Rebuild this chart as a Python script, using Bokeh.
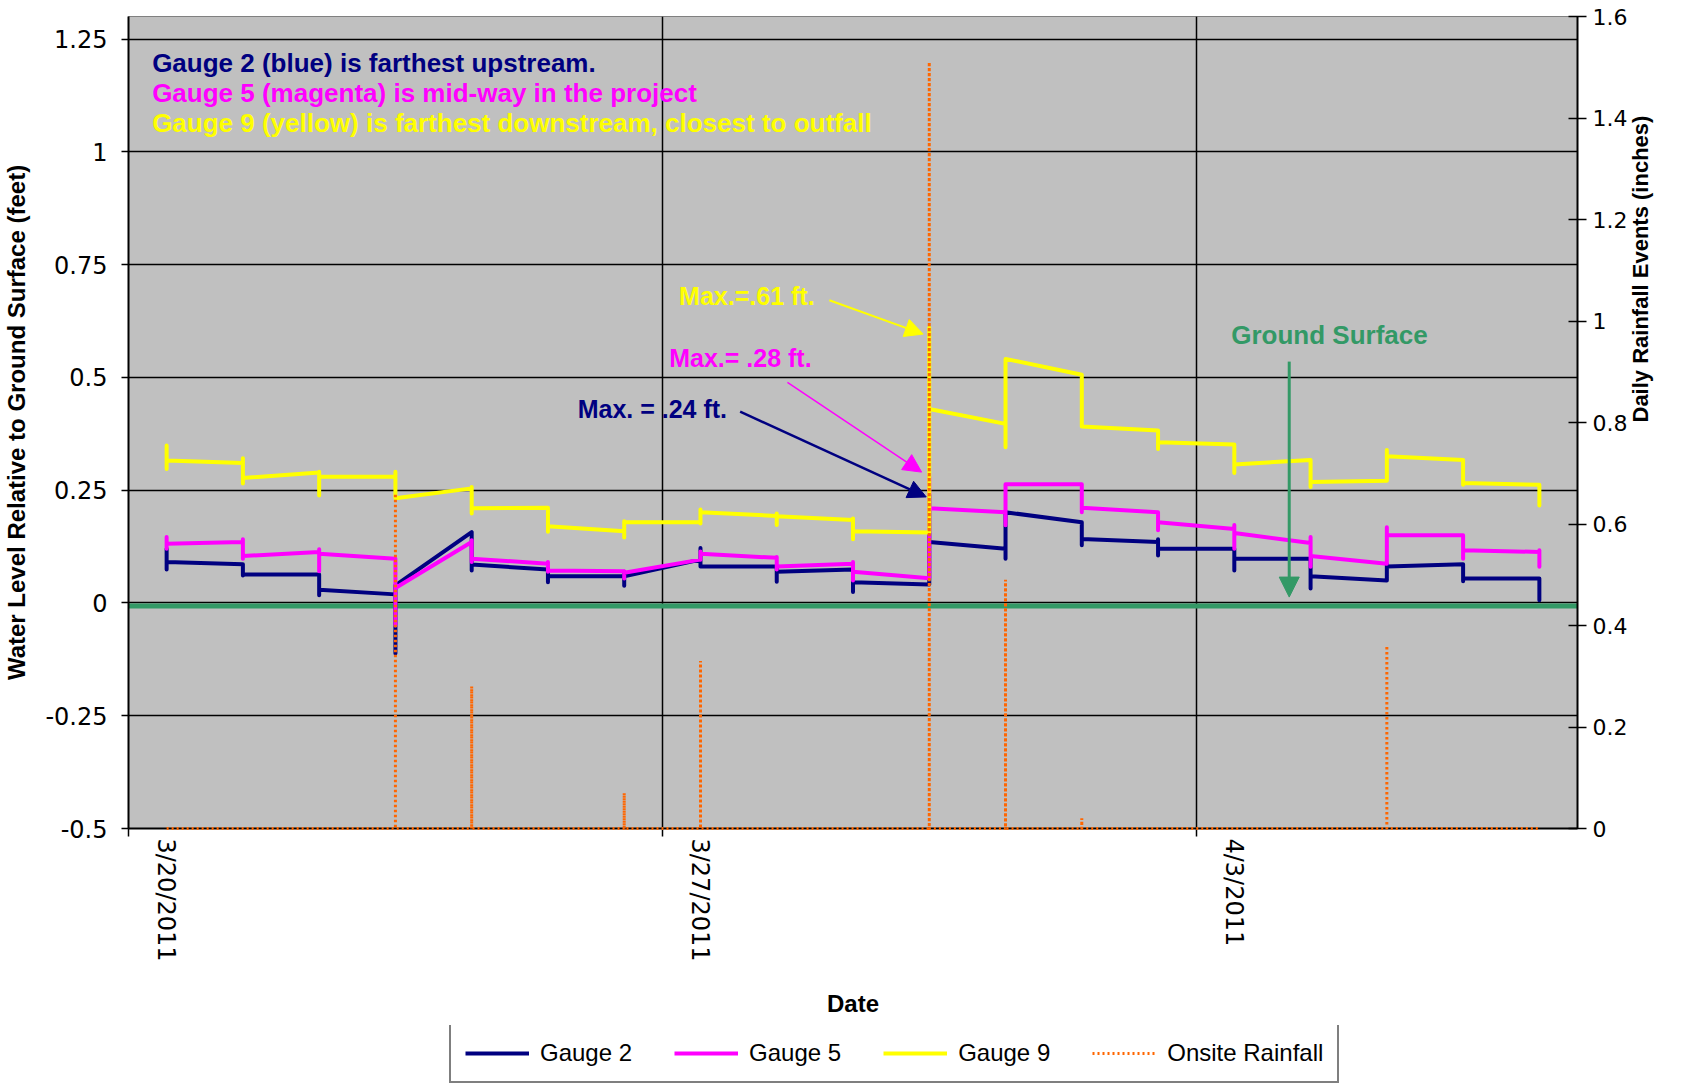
import pandas as pd
from bokeh.plotting import figure
from bokeh.layouts import column
from bokeh.models import (Range1d, LinearAxis, FixedTicker, CustomJSTickFormatter, Legend,
                          LegendItem, Label, Arrow, NormalHead, Span)
from bokeh.embed import file_html
from bokeh.resources import INLINE

# ---------------- data ----------------
# times at which the gauges were read / rain recorded (one per day, around noon)
BREAK_TIMES = ["2011-03-20 12:00", "2011-03-21 12:00", "2011-03-22 12:00", "2011-03-23 12:00",
               "2011-03-24 12:00", "2011-03-25 12:00", "2011-03-26 12:00", "2011-03-27 12:00",
               "2011-03-28 12:00", "2011-03-29 12:00", "2011-03-30 12:00", "2011-03-31 12:00",
               "2011-04-01 12:00", "2011-04-02 12:00", "2011-04-03 12:00", "2011-04-04 12:00",
               "2011-04-05 12:00", "2011-04-06 12:00", "2011-04-07 12:00"]

# Gauge 2 (blue): value at start / end of each daily record, and range of the spike at each reading
G2_START = [0.091, 0.063, 0.029, 0.039, 0.085, 0.059, 0.059, 0.081, 0.069, 0.046,
            0.135, 0.201, 0.142, 0.120, 0.098, 0.059, 0.081, 0.054]
G2_END = [0.086, 0.063, 0.019, 0.157, 0.074, 0.059, 0.096, 0.081, 0.074, 0.041,
          0.120, 0.179, 0.135, 0.120, 0.098, 0.050, 0.086, 0.054]
G2_HI = [0.120, 0.086, 0.063, 0.039, 0.157, 0.076, 0.069, 0.122, 0.081, 0.074,
         0.240, 0.201, 0.179, 0.141, 0.120, 0.098, 0.086, 0.086, 0.054]
G2_LO = [0.074, 0.061, 0.017, -0.112, 0.072, 0.046, 0.038, 0.081, 0.047, 0.024,
         0.041, 0.098, 0.128, 0.105, 0.072, 0.032, 0.050, 0.048, 0.006]

# Gauge 5 (magenta)
G5_START = [0.131, 0.104, 0.109, 0.033, 0.098, 0.072, 0.067, 0.109, 0.081, 0.069,
            0.210, 0.263, 0.211, 0.179, 0.155, 0.104, 0.150, 0.117]
G5_END = [0.135, 0.113, 0.098, 0.135, 0.087, 0.070, 0.096, 0.100, 0.087, 0.055,
          0.201, 0.263, 0.201, 0.164, 0.133, 0.087, 0.150, 0.113]
G5_HI = [0.146, 0.141, 0.119, 0.098, 0.139, 0.091, 0.070, 0.114, 0.102, 0.091,
         0.280, 0.263, 0.263, 0.201, 0.173, 0.146, 0.168, 0.150, 0.117]
G5_LO = [0.120, 0.098, 0.070, -0.050, 0.091, 0.069, 0.054, 0.096, 0.074, 0.050,
         0.055, 0.172, 0.201, 0.161, 0.120, 0.080, 0.087, 0.098, 0.080]

# Gauge 9 (yellow)
G9_START = [0.316, 0.277, 0.280, 0.232, 0.210, 0.170, 0.179, 0.201, 0.192, 0.159,
            0.430, 0.541, 0.391, 0.356, 0.307, 0.268, 0.325, 0.266]
G9_END = [0.310, 0.289, 0.280, 0.254, 0.211, 0.159, 0.179, 0.193, 0.184, 0.156,
          0.397, 0.506, 0.382, 0.351, 0.317, 0.271, 0.317, 0.262]
G9_HI = [0.349, 0.321, 0.291, 0.291, 0.257, 0.211, 0.181, 0.207, 0.198, 0.187,
         0.610, 0.541, 0.506, 0.382, 0.351, 0.317, 0.339, 0.317, 0.262]
G9_LO = [0.297, 0.265, 0.238, 0.232, 0.198, 0.158, 0.145, 0.176, 0.173, 0.141,
         0.156, 0.345, 0.391, 0.341, 0.288, 0.257, 0.271, 0.262, 0.216]

# Onsite rainfall (inches), one value per day
RAIN = [0, 0, 0, 0.66, 0.28, 0, 0.07, 0.33, 0, 0, 1.51, 0.49, 0.02, 0, 0, 0, 0.36, 0, 0]

X_TICK_DATES = ["2011-03-20", "2011-03-27", "2011-04-03"]
X_TICK_LABELS = ["3/20/2011", "3/27/2011", "4/3/2011"]
LEFT_TICKS = [-0.5, -0.25, 0, 0.25, 0.5, 0.75, 1, 1.25]
RIGHT_TICKS = [0, 0.2, 0.4, 0.6, 0.8, 1, 1.2, 1.4, 1.6]

SERIES_NAMES = ["Gauge 2", "Gauge 5", "Gauge 9", "Onsite Rainfall"]


# ---------------- helpers ----------------
def ms(s):
    return pd.Timestamp(s).value / 1e6


DAY = 86400000.0
X0 = ms("2011-03-20")
X1 = ms("2011-04-08")


def at(days):
    return X0 + days * DAY


BREAK_MS = [ms(t) for t in BREAK_TIMES]


def gauge_path(starts, ends, hi, lo):
    xs, ys = [], []
    n = len(BREAK_MS)
    for k in range(n):
        t = BREAK_MS[k]
        if k > 0:
            xs.append(t); ys.append(ends[k - 1])
        xs += [t, t]; ys += [hi[k], lo[k]]
        if k < n - 1:
            xs.append(t); ys.append(starts[k])
    return xs, ys


rain_x, rain_y = [], []
for t, v in zip(BREAK_MS, RAIN):
    rain_x += [t, t, t]
    rain_y += [0, v, 0]

# ---------------- figure ----------------
FONT = "Liberation Sans"
TICKFONT = "DejaVu Sans"
COLORS = ["#000080", "#FF00FF", "#FFFF00"]
RAIN_COLOR = "#FF6600"
GREEN = "#339966"

p = figure(width=1668, height=1025, x_range=Range1d(X0, X1), y_range=Range1d(-0.5, 1.3),
           output_backend="svg", toolbar_location=None,
           min_border_left=120, min_border_right=90, min_border_top=16, min_border_bottom=197)
p.extra_y_ranges = {"rain": Range1d(0, 1.6)}
p.background_fill_color = "#C0C0C0"
p.border_fill_color = "white"
p.outline_line_color = "#808080"
p.outline_line_width = 1

tick_ms = [ms(d) for d in X_TICK_DATES]
xticker = FixedTicker(ticks=tick_ms)
yticker = FixedTicker(ticks=LEFT_TICKS)

# primary x axis: tick marks only
xa = p.xaxis[0]
xa.ticker = xticker
xa.formatter = CustomJSTickFormatter(code="return '';")
xa.major_tick_out = 8
xa.major_tick_in = 0
xa.minor_tick_line_color = None
xa.axis_line_width = 2
xa.axis_line_color = "black"
xa.major_tick_line_width = 1.5
xa.major_label_standoff = 0

# second x axis: rotated date labels
lab_ms = [ms(d) + DAY * 0.49 for d in X_TICK_DATES]
xa2 = LinearAxis(ticker=FixedTicker(ticks=lab_ms),
                 formatter=CustomJSTickFormatter(args=dict(tvals=lab_ms, tlabels=X_TICK_LABELS),
                                                 code="const i = tvals.indexOf(tick); return i >= 0 ? tlabels[i] : '';"))
xa2.axis_line_color = None
xa2.major_tick_line_color = None
xa2.minor_tick_line_color = None
xa2.major_tick_out = 0
xa2.major_tick_in = 0
xa2.major_label_orientation = -1.5707963267948966
xa2.major_label_standoff = 2
xa2.major_label_text_font = TICKFONT
xa2.major_label_text_font_size = "24px"
xa2.major_label_text_color = "black"
xa2.axis_label = "Date"
xa2.axis_label_text_font = FONT
xa2.axis_label_text_font_size = "24px"
xa2.axis_label_text_font_style = "bold"
xa2.axis_label_text_color = "black"
xa2.axis_label_standoff = 25
p.add_layout(xa2, "below")

# left axis
ya = p.yaxis[0]
ya.ticker = yticker
ya.formatter = CustomJSTickFormatter(code="return tick.toString();")
ya.major_tick_out = 7
ya.major_tick_in = 0
ya.minor_tick_line_color = None
ya.axis_line_width = 2
ya.major_tick_line_width = 1.5
ya.major_label_standoff = 14
ya.major_label_text_font = TICKFONT
ya.major_label_text_font_size = "24px"
ya.major_label_text_color = "black"
ya.axis_label = "Water Level Relative to Ground Surface (feet)"
ya.axis_label_text_font = FONT
ya.axis_label_text_font_size = "24px"
ya.axis_label_text_font_style = "bold"
ya.axis_label_text_color = "black"
ya.axis_label_standoff = 12

# right axis
ra = LinearAxis(y_range_name="rain", ticker=FixedTicker(ticks=RIGHT_TICKS),
                formatter=CustomJSTickFormatter(code="return tick.toString();"))
ra.major_tick_out = 9
ra.major_tick_in = 9
ra.minor_tick_line_color = None
ra.axis_line_width = 2
ra.major_tick_line_width = 1.5
ra.major_label_standoff = 6
ra.major_label_text_font = TICKFONT
ra.major_label_text_font_size = "22px"
ra.major_label_text_color = "black"
ra.axis_label = "Daily Rainfall Events (inches)"
ra.axis_label_text_font = FONT
ra.axis_label_text_font_size = "22px"
ra.axis_label_text_font_style = "bold"
ra.axis_label_text_color = "black"
ra.axis_label_standoff = 10
ra.axis_label_orientation = 1.5707963267948966
p.add_layout(ra, "right")

# grids
p.xgrid.ticker = xticker
p.ygrid.ticker = yticker
p.xgrid.grid_line_color = "black"
p.ygrid.grid_line_color = "black"
p.xgrid.grid_line_width = 1.5
p.ygrid.grid_line_width = 1.5

# ground surface line
p.add_layout(Span(location=-0.007, dimension="width", line_color=GREEN, line_width=5,
                  level="underlay"))

# ---------------- series ----------------
paths = [gauge_path(G2_START, G2_END, G2_HI, G2_LO),
         gauge_path(G5_START, G5_END, G5_HI, G5_LO),
         gauge_path(G9_START, G9_END, G9_HI, G9_LO)]
for (xs, ys), c in zip(paths, COLORS):
    p.line(xs, ys, line_color=c, line_width=4, line_join="round", line_cap="round")

p.line(rain_x, rain_y, y_range_name="rain", line_color=RAIN_COLOR, line_width=3,
       line_dash="2 3", level="overlay")

# ---------------- annotations ----------------
HEAD = [("Gauge 2 (blue) is farthest upstream.", "#000080", 1.197),
        ("Gauge 5 (magenta) is mid-way in the project", "#FF00FF", 1.131),
        ("Gauge 9 (yellow) is farthest downstream, closest to outfall", "#FFFF00", 1.064)]
for txt, c, yy in HEAD:
    p.add_layout(Label(x=at(0.31), y=yy, text=txt, text_color=c, text_font=FONT,
                       text_font_size="26px", text_font_style="bold", text_baseline="middle"))

notes = [("Max.=.61 ft.", "#FFFF00", 7.22, 0.681, (9.19, 0.671, 10.42, 0.596), 2),
         ("Max.= .28 ft.", "#FF00FF", 7.09, 0.544, (8.64, 0.489, 10.40, 0.290), 1.5),
         ("Max. = .24 ft.", "#000080", 5.89, 0.431, (8.02, 0.424, 10.46, 0.235), 2.5)]
for txt, c, dx, yy, (a0, b0, a1, b1), lw in notes:
    p.add_layout(Label(x=at(dx), y=yy, text=txt, text_color=c, text_font=FONT,
                       text_font_size="25px", text_font_style="bold", text_baseline="middle"))
    p.add_layout(Arrow(end=NormalHead(size=18, fill_color=c, line_color=c),
                       x_start=at(a0), y_start=b0, x_end=at(a1), y_end=b1,
                       line_color=c, line_width=lw))

p.add_layout(Label(x=at(14.46), y=0.595, text="Ground Surface", text_color=GREEN, text_font=FONT,
                   text_font_size="26px", text_font_style="bold", text_baseline="middle"))
p.add_layout(Arrow(end=NormalHead(size=20, fill_color=GREEN, line_color=GREEN),
                   x_start=at(15.22), y_start=0.535, x_end=at(15.22), y_end=0.013,
                   line_color=GREEN, line_width=3))

# ---------------- legend strip (same series, drawn outside its visible range) ----------------
lp = figure(width=1668, height=60, x_range=Range1d(0, 1), y_range=Range1d(0, 1),
            output_backend="svg", toolbar_location=None, min_border=0,
            x_axis_location=None, y_axis_location=None)
lp.grid.visible = False
lp.outline_line_color = None
lp.background_fill_color = "white"
lp.border_fill_color = "white"
leg_renderers = [lp.line(xs, ys, line_color=c, line_width=4) for (xs, ys), c in zip(paths, COLORS)]
leg_renderers.append(lp.line(rain_x, rain_y, line_color=RAIN_COLOR, line_width=3, line_dash="2 3"))

legend = Legend(items=[LegendItem(label=n, renderers=[r]) for n, r in zip(SERIES_NAMES, leg_renderers)],
                orientation="horizontal", location=(321, 2))
legend.label_text_font = FONT
legend.label_text_font_size = "24px"
legend.label_text_color = "black"
legend.glyph_width = 64
legend.glyph_height = 20
legend.label_standoff = 11
legend.spacing = 42
legend.padding = 14
legend.margin = 0
legend.border_line_color = "black"
legend.border_line_width = 2
legend.background_fill_color = "white"
legend.background_fill_alpha = 1
lp.add_layout(legend, "center")

open("out.html", "w").write(file_html(column(p, lp), INLINE))
